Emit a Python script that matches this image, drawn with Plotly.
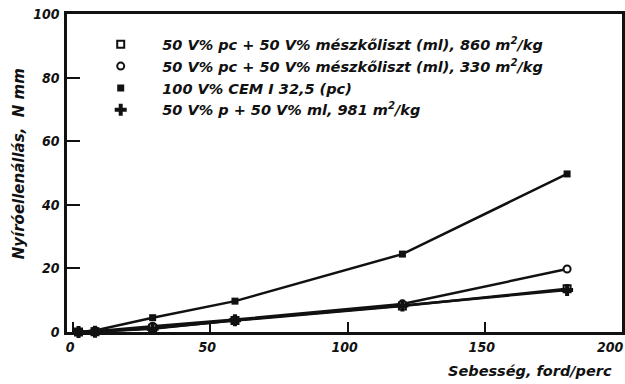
import plotly.graph_objects as go

# ---- data ----
speed = [2, 8, 29, 59, 120, 180]                 # Sebesség, ford/perc
cem_pc = [0, 0.5, 4.5, 9.7, 24.5, 49.7]          # 100 V% CEM I 32,5 (pc)
ml_330 = [0, 0.2, 1.8, 3.9, 8.8, 19.8]           # 50 V% pc + 50 V% ml, 330 m2/kg
ml_860 = [0, 0.1, 1.2, 3.6, 8.2, 13.6]           # 50 V% pc + 50 V% ml, 860 m2/kg
ml_981 = [0, 0.1, 1.0, 3.7, 8.3, 13.2]           # 50 V% p + 50 V% ml, 981 m2/kg

labels = [
    "50 V% pc + 50 V% mészkőliszt (ml), 860 m<sup>2</sup>/kg",
    "50 V% pc + 50 V% mészkőliszt (ml), 330 m<sup>2</sup>/kg",
    "100 V% CEM I 32,5 (pc)",
    "50 V% p + 50 V% ml, 981 m<sup>2</sup>/kg",
]
x_ticks = [0, 50, 100, 150, 200]
x_ticktext = ["0", "50", "100", "150", "200\u00a0\u00a0\u00a0\u00a0"]
y_ticks = [0, 20, 40, 60, 80, 100]

FONT = "DejaVu Sans, Liberation Sans, sans-serif"
NFONT = "DejaVu Sans Condensed, DejaVu Sans, sans-serif"
INK = "#111111"

series = [
    (ml_860, labels[0], dict(symbol="square-open", size=7, color=INK, line=dict(width=2, color=INK))),
    (ml_330, labels[1], dict(symbol="circle", size=7, color="white", line=dict(width=2, color=INK))),
    (cem_pc, labels[2], dict(symbol="square", size=7, color=INK)),
    (ml_981, labels[3], dict(symbol="cross", size=10, color=INK)),
]

fig = go.Figure()
for ys, name, mk in series:
    fig.add_trace(go.Scatter(x=speed, y=ys, mode="lines+markers", name=name,
                             line=dict(color=INK, width=2.5), marker=mk,
                             showlegend=False, cliponaxis=False))
for ys, name, mk in series:
    fig.add_trace(go.Scatter(x=[None], y=[None], mode="markers", name=name,
                             marker=mk, showlegend=True))

tickfont = dict(family=NFONT, size=14, color=INK, style="italic", weight="bold")
fig.update_layout(
    width=625, height=384,
    margin=dict(l=67, r=3, t=14, b=52, autoexpand=False),
    paper_bgcolor="white", plot_bgcolor="white",
    showlegend=True,
    legend=dict(x=0.022, y=0.955, xanchor="left", yanchor="top",
                bgcolor="rgba(0,0,0,0)", itemwidth=73, tracegroupgap=0,
                font=dict(family=FONT, size=14.5, color=INK, style="italic", weight="bold")),
    xaxis=dict(range=[-2.2, 200], tickvals=x_ticks, ticktext=x_ticktext,
               ticks="inside", ticklen=10, tickwidth=2, tickcolor=INK,
               ticklabeloverflow="allow", ticklabelshift=-3, automargin=False,
               showline=True, linewidth=2.5, linecolor=INK, mirror=True,
               showgrid=False, zeroline=False, tickfont=tickfont),
    yaxis=dict(range=[0, 100], tickvals=y_ticks, ticktext=[str(v) for v in y_ticks],
               ticks="inside", ticklen=13, tickwidth=2, tickcolor=INK,
               ticklabeloverflow="allow", ticklabelstandoff=2, automargin=False,
               showline=True, linewidth=2.5, linecolor=INK, mirror=True,
               showgrid=False, zeroline=False, tickfont=tickfont),
    annotations=[
        dict(text="Sebesség, ford/perc", xref="paper", yref="paper", x=0.985, y=-0.09,
             xanchor="right", yanchor="top", showarrow=False,
             font=dict(family=FONT, size=14.5, color=INK, style="italic", weight="bold")),
        dict(text="Nyíróellenállás,  N mm", xref="paper", yref="paper", x=-0.085, y=0.53,
             xanchor="center", yanchor="middle", textangle=-90, showarrow=False,
             font=dict(family=FONT, size=15, color=INK, style="italic", weight="bold")),
    ],
)

fig.write_html("out.html", config={"displayModeBar": False},
               post_script="document.body.style.margin='0';document.body.style.overflow='hidden';")
